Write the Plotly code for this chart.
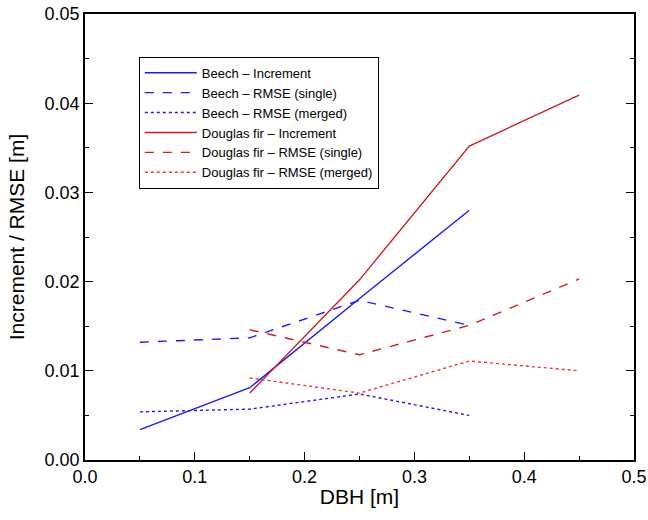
import plotly.graph_objects as go

dbh_beech = [0.05, 0.15, 0.25, 0.35]
dbh_fir = [0.15, 0.25, 0.35, 0.45]

beech_increment = [0.0034, 0.0081, 0.0181, 0.0280]
beech_rmse_single = [0.0132, 0.0137, 0.0179, 0.0151]
beech_rmse_merged = [0.0054, 0.0057, 0.0074, 0.0050]

fir_increment = [0.0075, 0.0202, 0.0352, 0.0409]
fir_rmse_single = [0.0146, 0.0118, 0.0151, 0.0203]
fir_rmse_merged = [0.0092, 0.0075, 0.0111, 0.0100]

blue = "#1a1aff"
red = "#cc2020"
red_dot = "#e83a3a"

fig = go.Figure()
series = [
    ("Beech \u2013 Increment", dbh_beech, beech_increment, blue, "solid"),
    ("Beech \u2013 RMSE (single)", dbh_beech, beech_rmse_single, blue, "dash"),
    ("Beech \u2013 RMSE (merged)", dbh_beech, beech_rmse_merged, blue, "dot"),
    ("Douglas fir \u2013 Increment", dbh_fir, fir_increment, red, "solid"),
    ("Douglas fir \u2013 RMSE (single)", dbh_fir, fir_rmse_single, red, "dash"),
    ("Douglas fir \u2013 RMSE (merged)", dbh_fir, fir_rmse_merged, red_dot, "dot"),
]
for name, x, y, c, d in series:
    fig.add_trace(go.Scatter(x=x, y=y, name=name, mode="lines",
                             line=dict(color=c, dash=d, width=1.4)))

fig.update_layout(
    width=648, height=520,
    margin=dict(l=85, r=14, t=14, b=60),
    paper_bgcolor="white", plot_bgcolor="white",
    font=dict(family="Liberation Sans, Arial", color="black"),
    showlegend=True,
    legend=dict(x=0.098, y=0.904, xanchor="left", yanchor="top",
                bgcolor="white", bordercolor="black", borderwidth=1,
                font=dict(size=13), tracegroupgap=0, itemwidth=52),
)
fig.update_xaxes(
    range=[0, 0.5], dtick=0.1, tickformat=".1f", automargin=False,
    showgrid=False, zeroline=False,
    showline=True, linecolor="black", linewidth=1.5, mirror=True,
    ticks="inside", ticklen=8, tickcolor="black",
    minor=dict(ticks="inside", ticklen=4, dtick=0.05, tickcolor="black", showgrid=False),
    tickfont=dict(size=18),
    title=dict(text="DBH [m]", font=dict(size=21), standoff=3),
)
fig.update_yaxes(
    range=[0, 0.05], dtick=0.01, tickformat=".2f", automargin=False,
    showgrid=False, zeroline=False,
    showline=True, linecolor="black", linewidth=1.5, mirror="ticks",
    ticks="inside", ticklen=8, tickcolor="black",
    minor=dict(ticks="inside", ticklen=4, dtick=0.005, tickcolor="black", showgrid=False),
    tickfont=dict(size=18),
    title=dict(text="Increment / RMSE [m]", font=dict(size=21), standoff=14),
)

fig.write_html("out.html", config={"displayModeBar": False},
               post_script="document.body.style.margin='0px';")
